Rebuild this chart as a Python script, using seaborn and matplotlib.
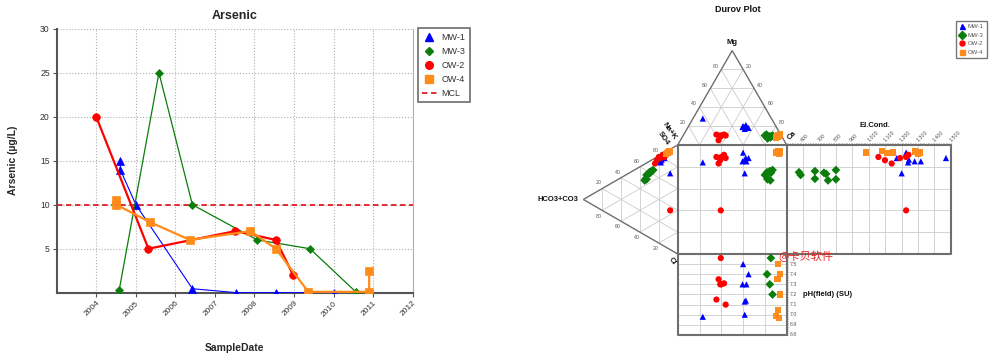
import matplotlib
matplotlib.use('Agg')
import matplotlib.pyplot as plt
import matplotlib.lines as mlines
import seaborn as sns
import pandas as pd
import numpy as np

sns.set_theme(style='white')
plt.rcParams['font.family'] = ['Liberation Sans', 'Noto Sans CJK SC', 'DejaVu Sans']

# ---------------- Arsenic time series (ug/L) ----------------
mw1_dates = ['2004-08-10', '2004-08-10', '2005-01-01', '2006-06-07', '2007-07-19', '2008-07-16', '2010-01-01']
mw1_as = [15, 14, 10, 0.45, 0, 0, 0]
mw3_dates = ['2004-07-31', '2005-08-02', '2006-06-07', '2008-01-26', '2009-05-27', '2010-07-24']
mw3_as = [0.3, 25, 10, 6, 5, 0.1]
ow2_dates = ['2004-01-01', '2005-04-27', '2007-07-08', '2008-07-16', '2008-12-24']
ow2_as = [20, 5, 7, 6, 2]
ow4_dates = ['2004-07-05', '2004-07-05', '2005-05-15', '2006-05-15', '2007-11-24', '2008-07-16',
             '2009-05-12', '2010-11-25', '2010-11-25']
ow4_as = [10.5, 10, 8, 6, 7, 5, 0.1, 0.1, 2.5]
mcl = 10

wells = ['MW-1', 'MW-3', 'OW-2', 'OW-4']
colors = {'MW-1': '#0000ff', 'MW-3': '#0a7d0a', 'OW-2': '#ff0000', 'OW-4': '#ff8c1a'}
markers = {'MW-1': '^', 'MW-3': 'D', 'OW-2': 'o', 'OW-4': 's'}

# ---------------- Durov samples (% meq, EC uS/cm, field pH) ----------------
mw1_ca = [9, 50, 56, 53, 50, 52, 52, 53]
mw1_mg = [28, 20, 18, 20, 19, 21, 19, 17]
mw1_so4 = [75, 88, 80, 76, 75, 81, 70, 78]
mw1_hco3 = [18, 10, 16, 18, 20, 14, 8, 17]
mw1_ec = [1240, 1228, 1171, 1280, 1318, 1471, 1201, 1245]
mw1_ph = [6.98, 7.50, 7.40, 7.30, 7.30, 7.14, 7.00, 7.13]

mw3_ca = [78, 75, 80, 79, 81, 76, 81, 82, 78]
mw3_mg = [8, 10, 9, 7, 9, 11, 8, 10, 9]
mw3_so4 = [60, 56, 62, 52, 60, 58, 50, 64, 52]
mw3_hco3 = [30, 33, 28, 34, 29, 31, 35, 26, 33]
mw3_ec = [575, 585, 672, 672, 727, 740, 752, 800, 800]
mw3_ph = [7.40, np.nan, 7.30, np.nan, 7.56, np.nan, np.nan, 7.20, np.nan]

ow2_ca = [30, 34, 37, 39, 35, 35, 35]
ow2_mg = [11, 10, 11, 10, 5, 9, 10]
ow2_so4 = [79, 75, 83, 79, 71, 36, 82]
ow2_hco3 = [20, 22, 16, 18, 24, 8, 14]
ow2_ec = [1059, 1099, 1242, 1191, 1140, 1228, 1228]
ow2_ph = [7.15, 7.30, 7.31, 7.10, 7.35, 7.56, 7.30]

ow4_ca = [87, 88, 87, 88, 87, 86, 88]
ow4_mg = [10, 11, 9, 12, 10, 8, 10]
ow4_so4 = [88, 90, 87, 88, 90, 88, 86]
ow4_hco3 = [10, 9, 11, 10, 8, 10, 12]
ow4_ec = [983, 1079, 1110, 1150, 1282, 1313, 1300]
ow4_ph = [7.50, 7.40, 7.35, 7.20, 7.05, 6.99, 6.97]

ec_ticks = list(range(600, 1501, 100))
ph_ticks = [6.8, 6.9, 7.0, 7.1, 7.2, 7.3, 7.4, 7.5]
tri_ticks = [20, 40, 60, 80]

fig = plt.figure(figsize=(10, 3.6), dpi=100)

# ================= left: Arsenic =================
ax = fig.add_axes([0.0567, 0.187, 0.356, 0.733])
series = [('MW-1', mw1_dates, mw1_as, 0.8, 5.5),
          ('MW-3', mw3_dates, mw3_as, 0.9, 4.0),
          ('OW-2', ow2_dates, ow2_as, 1.6, 5.5),
          ('OW-4', ow4_dates, ow4_as, 1.6, 5.5)]
for name, d, v, lw, ms in series:
    sdf = pd.DataFrame({'date': pd.to_datetime(d), 'val': v})
    sns.lineplot(data=sdf, x='date', y='val', ax=ax, sort=False, estimator=None,
                 color=colors[name], lw=lw, marker=markers[name], ms=ms,
                 mec=colors[name], mew=0.5, zorder=3)
ax.axhline(mcl, color='#e01b24', lw=1.3, ls=(0, (3, 2)), zorder=2)

ax.set_xlim(pd.Timestamp('2003-01-01'), pd.Timestamp('2012-01-01'))
ax.set_ylim(0, 30)
years = list(range(2004, 2013))
ax.set_xticks([pd.Timestamp(f'{y}-01-01') for y in years])
ax.set_xticklabels([str(y) for y in years], rotation=45, ha='right', rotation_mode='anchor',
                   fontsize=6, color='#333333')
ax.set_yticks([5, 10, 15, 20, 25, 30])
ax.set_yticklabels(['5', '10', '15', '20', '25', '30'], fontsize=6.2, color='#333333')
ax.tick_params(axis='both', length=3, width=0.8, color='#555555', pad=2, left=True, bottom=True)
ax.grid(True, ls=':', color='#b0b0b0', lw=0.8)
for s in ['left', 'bottom']:
    ax.spines[s].set_color('#555555')
    ax.spines[s].set_linewidth(1.5)
ax.spines['top'].set_visible(False)
ax.spines['right'].set_color('#b0b0b0')
ax.spines['right'].set_linewidth(0.8)
ax.set_title('Arsenic', fontsize=9, fontweight='bold', pad=7)
ax.set_xlabel('SampleDate', fontsize=7.5, fontweight='bold')
ax.set_ylabel('Arsenic (µg/L)', fontsize=7.5, fontweight='bold')
ax.xaxis.set_label_coords(0.5, -0.19)
ax.yaxis.set_label_coords(-0.11, 0.5)

handles = [mlines.Line2D([], [], ls='none', marker=markers[w], color=colors[w],
                         ms=4.5 if w == 'MW-3' else 5.5, label=w) for w in wells]
handles.append(mlines.Line2D([], [], color='#e01b24', lw=1.3, ls=(0, (3, 2)), label='MCL'))
leg = fig.legend(handles=handles, loc='upper left', bbox_to_anchor=(0.4177, 1 - 28.3 / 360),
                 bbox_transform=fig.transFigure, fontsize=6.5, frameon=True, fancybox=False,
                 borderaxespad=0, handlelength=1.6, handletextpad=0.5, labelspacing=0.55, borderpad=0.5)
leg.get_frame().set_edgecolor('#555555')
leg.get_frame().set_linewidth(1.3)
for t in leg.get_texts():
    t.set_color('#333333')

# ================= right: Durov plot =================
h = np.sqrt(3) / 2
EC0, EC_SCALE = 500, 150.5 / 1000
PH_TOP, PH_SCALE = 7.6, 74.3 / 0.8

frames = []
for name, ca, mg, so4, hco3, ec, ph in [
        ('MW-1', mw1_ca, mw1_mg, mw1_so4, mw1_hco3, mw1_ec, mw1_ph),
        ('MW-3', mw3_ca, mw3_mg, mw3_so4, mw3_hco3, mw3_ec, mw3_ph),
        ('OW-2', ow2_ca, ow2_mg, ow2_so4, ow2_hco3, ow2_ec, ow2_ph),
        ('OW-4', ow4_ca, ow4_mg, ow4_so4, ow4_hco3, ow4_ec, ow4_ph)]:
    frames.append(pd.DataFrame({'well': name, 'ca': ca, 'mg': mg, 'so4': so4,
                                'hco3': hco3, 'ec': ec, 'ph': ph}))
df = pd.concat(frames, ignore_index=True)
df['sq_x'] = df.ca + df.mg / 2
df['sq_y'] = df.so4 + df.hco3 / 2
df['cat_y'] = 100 + df.mg * h
df['an_x'] = -df.hco3 * h
df['ec_x'] = 100 + (df.ec - EC0) * EC_SCALE
df['ph_y'] = -(PH_TOP - df.ph) * PH_SCALE

axd = fig.add_axes([0.56, 15 / 360, 0.40, 305 / 360])
axd.set_xlim(-108.0, 259.0)
axd.set_ylim(-83.5, 196.3)
axd.axis('off')

GRID = dict(color='#cccccc', lw=0.6, zorder=1)
FRAME = dict(color='#6e6e6e', lw=1.5, zorder=2)
EDGE = dict(color='#6e6e6e', lw=1.0, zorder=2)
SMALL = dict(fontsize=3.8, color='#555555', ha='center', va='center')


def seg(p, q, **kw):
    axd.plot([p[0], q[0]], [p[1], q[1]], solid_capstyle='butt', **kw)


ec_right = 100 + (1500 - EC0) * EC_SCALE
ph_bot = -(PH_TOP - 6.8) * PH_SCALE

for k in tri_ticks:
    # cation triangle
    seg((k / 2, 100 + k * h), (100 - k / 2, 100 + k * h), **GRID)
    seg((k, 100), (k + (100 - k) / 2, 100 + (100 - k) * h), **GRID)
    seg((100 - k, 100), ((100 - k) / 2, 100 + (100 - k) * h), **GRID)
    # anion triangle
    seg((-k * h, k / 2), (-k * h, 100 - k / 2), **GRID)
    seg((0, k), (-(100 - k) * h, k + (100 - k) / 2), **GRID)
    seg((0, 100 - k), (-(100 - k) * h, (100 - k) / 2), **GRID)
    # square, EC box, pH box
    seg((k, 0), (k, 100), **GRID)
    seg((0, k), (100, k), **GRID)
    seg((100, k), (ec_right, k), **GRID)
    seg((k, ph_bot), (k, 0), **GRID)
    # triangle edge labels
    axd.text(k / 2 - 6 * h, 100 + k * h + 3, str(k), **SMALL)
    axd.text(k + (100 - k) / 2 + 6 * h, 100 + (100 - k) * h + 3, str(k), **SMALL)
    axd.text(-(100 - k) * h - 3, k + (100 - k) / 2 + 6 * h, str(k), **SMALL)
    axd.text(-k * h - 3, k / 2 - 6 * h, str(k), **SMALL)

for ec in ec_ticks[:-1]:
    x = 100 + (ec - EC0) * EC_SCALE
    seg((x, 0), (x, 100), **GRID)
for ph in ph_ticks[1:]:
    y = -(PH_TOP - ph) * PH_SCALE
    seg((0, y), (100, y), **GRID)

# outlines
seg((0, 100), (50, 100 + 100 * h), **EDGE)
seg((50, 100 + 100 * h), (100, 100), **EDGE)
seg((0, 100), (-100 * h, 50), **EDGE)
seg((-100 * h, 50), (0, 0), **EDGE)
axd.plot([0, ec_right, ec_right, 0, 0], [0, 0, 100, 100, 0], **FRAME)
seg((100, 0), (100, 100), **FRAME)
axd.plot([0, 0, 100, 100], [0, ph_bot, ph_bot, 0], **FRAME)

# EC ticks on top edge, pH ticks on right edge
ec_minor = np.arange(EC0, 1501, 10)
axd.vlines(100 + (ec_minor - EC0) * EC_SCALE, 100, 101.6, color='#6e6e6e', lw=0.5, zorder=2)
for ec in ec_ticks:
    x = 100 + (ec - EC0) * EC_SCALE
    axd.text(x + 0.5, 102.5, f'{ec:,}', rotation=45, ha='left', va='bottom',
             rotation_mode='anchor', fontsize=3.8, color='#555555')
ph_minor = np.arange(6.8, 7.601, 0.02)
axd.hlines(-(PH_TOP - ph_minor) * PH_SCALE, 100, 101.4, color='#6e6e6e', lw=0.5, zorder=2)
for ph in ph_ticks:
    y = -(PH_TOP - ph) * PH_SCALE
    axd.text(103, y, f'{ph:.1f}', ha='left', va='center', fontsize=3.8, color='#555555')

# points
SC = dict(hue='well', style='well', palette=colors, markers=markers, hue_order=wells,
          style_order=wells, s=20, linewidth=0, legend=False, ax=axd, zorder=3, clip_on=False)
sns.scatterplot(data=df, x='sq_x', y='sq_y', **SC)
sns.scatterplot(data=df, x='sq_x', y='cat_y', **SC)
sns.scatterplot(data=df, x='an_x', y='sq_y', **SC)
sns.scatterplot(data=df, x='ec_x', y='sq_y', **SC)
sns.scatterplot(data=df.dropna(subset=['ph']), x='sq_x', y='ph_y', **SC)

# labels
BOLD = dict(fontsize=5.5, fontweight='bold', color='#111111')
axd.text(50, 194, 'Mg', ha='center', va='center', **BOLD)
axd.text(104, 103, 'Ca', ha='left', va='bottom', rotation=45, rotation_mode='anchor', **BOLD)
axd.text(-8, 113, 'Na+K', ha='center', va='center', rotation=-55, **BOLD)
axd.text(-13.5, 106.5, 'SO4', ha='center', va='center', rotation=-55, **BOLD)
axd.text(-91, 50, 'HCO3+CO3', ha='right', va='center', **BOLD)
axd.text(-5, -6.5, 'Cl', ha='center', va='center', rotation=-55, **BOLD)
axd.text(181, 118, 'El.Cond.', ha='center', va='center', **BOLD)
axd.text(114.7, -37, 'pH(field) (SU)', ha='left', va='center', **BOLD)
axd.set_xlabel('')
axd.set_ylabel('')

fig.text(0.738, 1 - 10 / 360, 'Durov Plot', ha='center', va='center', fontsize=6.5,
         fontweight='bold', color='#111111')
fig.text(0.806, 1 - 256 / 360, '@卡贝软件', ha='center', va='center', fontsize=8,
         color='#e8231e', family=['Noto Sans CJK SC', 'DejaVu Sans'], zorder=10)

handles2 = [mlines.Line2D([], [], ls='none', marker=markers[w], color=colors[w], ms=3.6, label=w) for w in wells]
leg2 = fig.legend(handles=handles2, loc='upper left', bbox_to_anchor=(0.956, 1 - 20.7 / 360),
                  bbox_transform=fig.transFigure, fontsize=4.3, frameon=True, fancybox=False,
                  borderaxespad=0, handlelength=1.0, handletextpad=0.5, labelspacing=0.6, borderpad=0.5)
leg2.get_frame().set_edgecolor('#555555')
leg2.get_frame().set_linewidth(1.0)
for t in leg2.get_texts():
    t.set_color('#555555')

fig.savefig('out.png', dpi=100)
